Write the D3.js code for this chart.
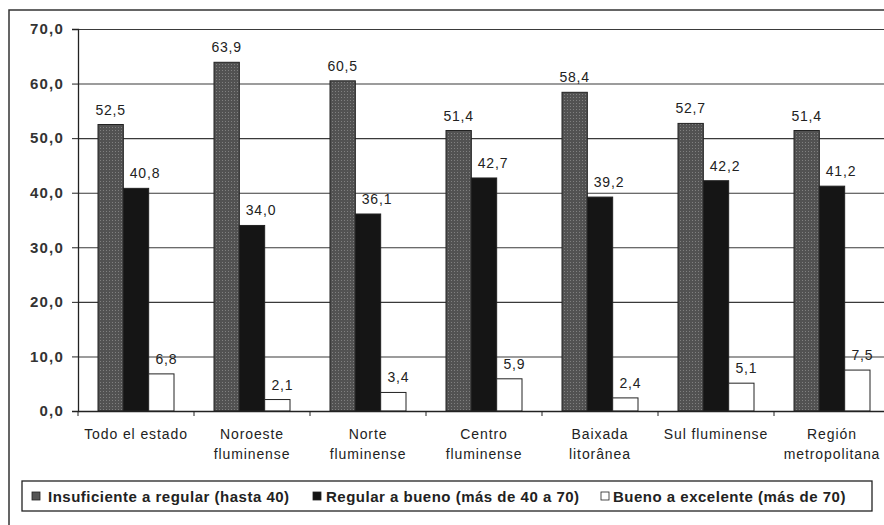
<!DOCTYPE html>
<html>
<head>
<meta charset="utf-8">
<script src="https://cdn.jsdelivr.net/npm/d3@7"></script>
<style>
    body { margin: 0; background: #fff; }
    svg { display: block; font-family: "Liberation Sans", Arial, sans-serif; }
</style>
</head>
<body>
<svg id="chart" width="884" height="525"></svg>
<script>
const categories = [
    ["Todo el estado"],
    ["Noroeste", "fluminense"],
    ["Norte", "fluminense"],
    ["Centro", "fluminense"],
    ["Baixada", "litorânea"],
    ["Sul fluminense"],
    ["Región", "metropolitana"]
];
const seriesNames = [
    "Insuficiente a regular (hasta 40)",
    "Regular a bueno (más de 40 a 70)",
    "Bueno a excelente (más de 70)"
];
const insuficiente = [52.5, 63.9, 60.5, 51.4, 58.4, 52.7, 51.4];
const regular = [40.8, 34.0, 36.1, 42.7, 39.2, 42.2, 41.2];
const bueno = [6.8, 2.1, 3.4, 5.9, 2.4, 5.1, 7.5];
const yTicks = [0, 10, 20, 30, 40, 50, 60, 70];

const seriesValues = [insuficiente, regular, bueno];
const fmt = v => d3.format(".1f")(v).replace(".", ",");

const svg = d3.select("#chart");

// textured gray like the scanned original
const defs = svg.append("defs");
const pat = defs.append("pattern")
    .attr("id", "dots")
    .attr("width", 3).attr("height", 3)
    .attr("patternUnits", "userSpaceOnUse");
pat.append("rect").attr("width", 3).attr("height", 3).attr("fill", "#525252");
pat.append("rect").attr("x", 1).attr("y", 1).attr("width", 1).attr("height", 1).attr("fill", "#808080");

const fills = ["url(#dots)", "#151515", "#fff"];
const legendFills = ["#555", "#151515", "#fff"];
// value labels of the 2nd and 3rd series sit a little right of the bar centre
const labelShift = [0, 9, 5];

// outer frame (cropped at right and bottom like the scan)
svg.append("rect")
    .attr("x", 9).attr("y", 10)
    .attr("width", 900).attr("height", 540)
    .attr("fill", "none")
    .attr("stroke", "#333")
    .attr("stroke-width", 1.5);

const plot = {left: 78, right: 890, top: 29, bottom: 411};

const x0 = d3.scaleBand()
    .domain(d3.range(categories.length))
    .range([plot.left, plot.right]);

const x1 = d3.scaleBand()
    .domain(d3.range(seriesNames.length))
    .range([20, x0.bandwidth() - 20]);

const y = d3.scaleLinear()
    .domain([0, 70])
    .range([plot.bottom, plot.top]);

// gridlines
svg.append("g")
    .attr("class", "grid")
    .attr("transform", `translate(${plot.left},0)`)
    .call(d3.axisLeft(y).tickValues(yTicks).tickSize(-(plot.right - plot.left)).tickFormat(""))
    .call(g => g.select(".domain").remove())
    .call(g => g.selectAll("line").attr("stroke", "#3a3a3a").attr("stroke-width", 1.1));

// y axis
svg.append("g")
    .attr("transform", `translate(${plot.left},0)`)
    .call(d3.axisLeft(y).tickValues(yTicks).tickSize(6).tickPadding(8).tickFormat(fmt))
    .call(g => g.select(".domain").attr("stroke", "#222").attr("stroke-width", 1.3))
    .call(g => g.selectAll("line").attr("stroke", "#222"))
    .call(g => g.selectAll("text")
        .attr("font-size", 15)
        .attr("font-weight", "bold")
        .attr("letter-spacing", 1.2)
        .attr("fill", "#333"));

// bars
const groups = svg.append("g")
    .selectAll("g")
    .data(categories)
    .join("g")
    .attr("transform", (d, i) => `translate(${x0(i)},0)`);

groups.selectAll("rect")
    .data((d, i) => seriesValues.map((vals, s) => ({s: s, v: vals[i]})))
    .join("rect")
    .attr("x", d => x1(d.s))
    .attr("y", d => y(d.v))
    .attr("width", x1.bandwidth())
    .attr("height", d => y(0) - y(d.v))
    .attr("fill", d => fills[d.s])
    .attr("stroke", "#222")
    .attr("stroke-width", 1);

groups.selectAll("text.val")
    .data((d, i) => seriesValues.map((vals, s) => ({s: s, v: vals[i]})))
    .join("text")
    .attr("class", "val")
    .attr("x", d => x1(d.s) + x1.bandwidth() / 2 + labelShift[d.s])
    .attr("y", d => y(d.v) - 10)
    .attr("text-anchor", "middle")
    .attr("font-size", 14)
    .attr("letter-spacing", 0.8)
    .attr("fill", "#222")
    .text(d => fmt(d.v));

// x axis
svg.append("g")
    .attr("transform", `translate(0,${plot.bottom})`)
    .call(d3.axisBottom(x0).tickValues([]).tickSizeOuter(0))
    .call(g => g.select(".domain").attr("stroke", "#222").attr("stroke-width", 1.3));

svg.append("g")
    .selectAll("line")
    .data(d3.range(categories.length + 1))
    .join("line")
    .attr("x1", i => plot.left + i * x0.step())
    .attr("x2", i => plot.left + i * x0.step())
    .attr("y1", plot.bottom)
    .attr("y2", plot.bottom + 5)
    .attr("stroke", "#222");

svg.append("g")
    .selectAll("text")
    .data(categories)
    .join("text")
    .attr("x", (d, i) => x0(i) + x0.bandwidth() / 2)
    .attr("y", plot.bottom + 28)
    .attr("text-anchor", "middle")
    .attr("font-size", 14)
    .attr("letter-spacing", 0.9)
    .attr("fill", "#222")
    .each(function(d) {
        d3.select(this).selectAll("tspan")
            .data(d)
            .join("tspan")
            .attr("x", d3.select(this).attr("x"))
            .attr("dy", (t, k) => k === 0 ? 0 : 20)
            .text(t => t);
    });

// legend
const legend = svg.append("g");
legend.append("rect")
    .attr("x", 22).attr("y", 481)
    .attr("width", 850).attr("height", 30)
    .attr("fill", "#fff")
    .attr("stroke", "#222")
    .attr("stroke-width", 1.3);

const legendX = [32, 313, 601];
const legendTextX = [16, 13, 12];
const items = legend.selectAll("g.item")
    .data(seriesNames)
    .join("g")
    .attr("class", "item")
    .attr("transform", (d, i) => `translate(${legendX[i]},496)`);

items.append("rect")
    .attr("x", 0).attr("y", -4)
    .attr("width", 8).attr("height", 8)
    .attr("fill", (d, i) => legendFills[i])
    .attr("stroke", "#222")
    .attr("stroke-width", 0.8);

items.append("text")
    .attr("x", (d, i) => legendTextX[i])
    .attr("y", 5.5)
    .attr("font-size", 15)
    .attr("font-weight", "bold")
    .attr("letter-spacing", 0.5)
    .attr("fill", "#222")
    .text(d => d);
</script>
</body>
</html>
